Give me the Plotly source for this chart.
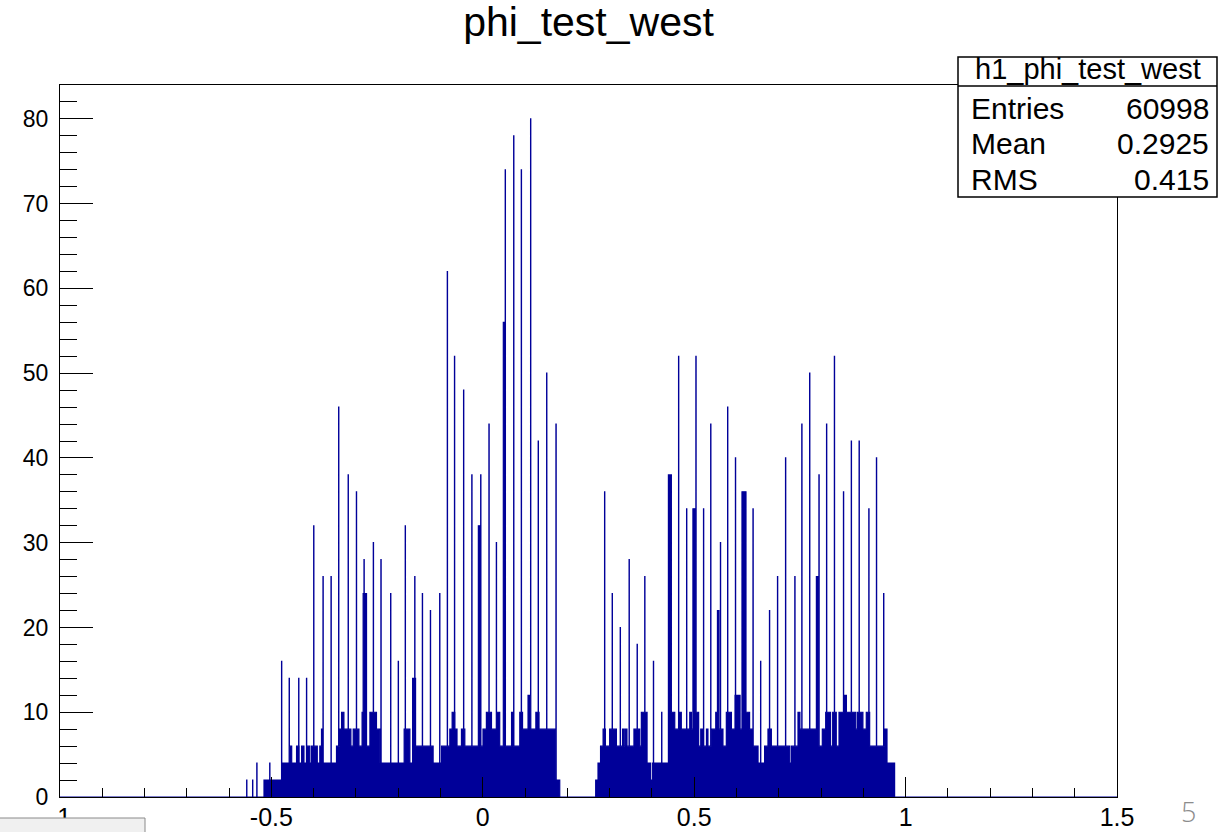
import numpy as np
import plotly.graph_objects as go

# ---------------- data ----------------
# Piecewise-constant "floor" of the histogram: edges (phi) and counts between them
base_edges = [
    -0.5177, -0.4759, -0.4579, -0.4522, -0.4404, -0.4343, -0.4286, -0.4232, -0.4168, -0.4090,
    -0.4050, -0.3917, -0.3853, -0.3813, -0.3775, -0.3459, -0.3381, -0.3341, -0.3286, -0.3121,
    -0.3066, -0.2931, -0.2853, -0.2830, -0.2749, -0.2671, -0.2513, -0.2435, -0.1861, -0.1726,
    -0.1662, -0.1591, -0.1175, -0.0976, -0.0780, -0.0726, -0.0662, -0.0608, -0.0504, -0.0426,
    -0.0106, -0.0059, 0.0007, 0.0087, 0.0206, 0.0324, 0.0402, 0.0485, 0.0532, 0.0678,
    0.0716, 0.0875, 0.0939, 0.1071, 0.1128, 0.1253, 0.1331, 0.1726, 0.1820, 0.2671,
    0.2726, 0.2783, 0.2844, 0.2901, 0.3002, 0.3161, 0.3303, 0.3333, 0.3364, 0.3411,
    0.3577, 0.3712, 0.3752, 0.3884, 0.3965, 0.4012, 0.4390, 0.4461, 0.4539, 0.4641,
    0.4697, 0.4894, 0.4934, 0.4972, 0.5035, 0.5106, 0.5154, 0.5208, 0.5288, 0.5326,
    0.5407, 0.5508, 0.5548, 0.5586, 0.5681, 0.5761, 0.5879, 0.5965, 0.6083, 0.6130,
    0.6225, 0.6312, 0.6390, 0.6508, 0.6667, 0.6745, 0.6825, 0.7258, 0.7298, 0.7454,
    0.7501, 0.7889, 0.7943, 0.8031, 0.8109, 0.8227, 0.8274, 0.8362, 0.8423, 0.8534,
    0.8598, 0.8818, 0.8858, 0.8991, 0.9071, 0.9149, 0.9504, 0.9558, 0.9740,
]
base_counts = [
    2, 4, 6, 4, 6, 4, 6, 4, 6, 4,
    6, 4, 6, 8, 4, 6, 8, 10, 8, 6,
    8, 6, 10, 24, 6, 10, 8, 4, 8, 4,
    14, 6, 4, 6, 8, 10, 8, 6, 8, 6,
    32, 6, 8, 10, 8, 10, 6, 56, 6, 10,
    6, 10, 8, 12, 8, 10, 8, 2, 0, 2,
    4, 6, 8, 6, 8, 6, 8, 6, 8, 6,
    8, 6, 10, 4, 2, 4, 38, 10, 8, 10,
    8, 10, 8, 34, 10, 6, 8, 6, 8, 6,
    8, 10, 22, 8, 6, 10, 8, 12, 8, 36,
    10, 8, 6, 4, 6, 8, 6, 4, 6, 10,
    8, 26, 6, 8, 10, 6, 10, 6, 10, 12,
    10, 8, 10, 8, 10, 6, 8, 4,
]

# Single-bin spikes: position (phi) and count
spike_phi = [
    -0.558, -0.544, -0.534, -0.504, -0.476, -0.458, -0.435, -0.417, -0.400, -0.378,
    -0.359, -0.341, -0.318, -0.299, -0.281, -0.259, -0.241, -0.218, -0.200, -0.183,
    -0.161, -0.143, -0.124, -0.102, -0.084, -0.067, -0.045, -0.026, -0.005, 0.015,
    0.032, 0.053, 0.073, 0.091, 0.113, 0.131, 0.151, 0.173,
    0.288, 0.306, 0.325, 0.346, 0.365, 0.383, 0.404, 0.423, 0.442, 0.463,
    0.482, 0.504, 0.522, 0.539, 0.562, 0.579, 0.598, 0.639, 0.657, 0.678,
    0.697, 0.716, 0.738, 0.755, 0.773, 0.795, 0.813, 0.832, 0.853, 0.872,
    0.890, 0.913, 0.931, 0.948,
]
spike_counts = [
    2, 2, 4, 4, 16, 14, 14, 14, 32, 26,
    26, 46, 38, 36, 28, 30, 28, 24, 16, 32,
    26, 24, 22, 24, 62, 52, 48, 38, 38, 44,
    30, 74, 78, 74, 80, 42, 50, 44,
    36, 24, 20, 28, 18, 26, 16, 10, 38, 52,
    34, 52, 34, 44, 30, 46, 40, 34, 16, 22,
    26, 40, 26, 44, 50, 38, 44, 52, 36, 42,
    42, 34, 40, 24,
]

x_tick_vals = [-1, -0.5, 0, 0.5, 1, 1.5]
x_tick_text = ["-1", "-0.5", "0", "0.5", "1", "1.5"]
y_tick_vals = [0, 10, 20, 30, 40, 50, 60, 70, 80]
y_tick_text = ["0", "10", "20", "30", "40", "50", "60", "70", "80"]

title_text = "phi_test_west"
stats_name = "h1_phi_test_west"
stats_rows = [("Entries", "60998"), ("Mean", "0.2925"), ("RMS", "0.415")]
x_range = [-1.0, 1.5]
y_range = [0, 84]

# ---------------- build fine histogram bins ----------------
bw = 0.0005
edges = np.arange(x_range[0], x_range[1] + bw / 2, bw)
centers = edges[:-1] + bw / 2
counts = np.zeros(len(centers))
be = np.array(base_edges)
bc = np.array(base_counts, dtype=float)
idx = np.searchsorted(be, centers, side="right") - 1
ok = (idx >= 0) & (idx < len(bc))
counts[ok] = bc[idx[ok]]
for sx, sc in zip(spike_phi, spike_counts):
    i = int(np.floor((sx - x_range[0]) / bw))
    counts[i] = max(counts[i], sc)

xs = np.append(edges[:-1], edges[-1])
ys = np.append(counts, counts[-1])

navy = "#000099"
fig = go.Figure()
fig.add_trace(go.Scatter(
    x=xs, y=ys, mode="lines", line=dict(shape="hv", color=navy, width=1.2),
    fill="tozeroy", fillcolor=navy, hoverinfo="skip", showlegend=False,
))

FONT = "Liberation Sans, Arial, Helvetica, sans-serif"

# plot frame in pixels: left 60, right 1117, top 85, bottom 797
L, R, T, B = 60, 1117, 85, 797
W, H = 1229, 832
pw, ph = R - L, B - T

def px2paper_x(px):
    return (px - L) / pw

def px2paper_y(py):
    return (B - py) / ph

fig.update_layout(
    width=W, height=H,
    margin=dict(l=L, r=W - R, t=T, b=H - B, pad=0, autoexpand=False),
    paper_bgcolor="white", plot_bgcolor="white",
    font=dict(family=FONT, color="black"),
    title=dict(text=title_text, x=0.5, xref="paper", xanchor="center",
               y=1 - 22 / H, yref="container", yanchor="middle",
               font=dict(family=FONT, size=41, color="black")),
    xaxis=dict(range=x_range, showgrid=False, zeroline=False, automargin=False,
               showline=True, mirror=True, linecolor="black", linewidth=1,
               ticks="inside", tickcolor="black", ticklen=20, tickwidth=1,
               tickmode="array", tickvals=x_tick_vals, ticktext=x_tick_text,
               minor=dict(dtick=0.1, tick0=-1, ticks="inside", ticklen=9,
                          tickcolor="black", tickwidth=1, showgrid=False),
               tickfont=dict(family=FONT, size=25, color="black"),
               ticklabelstandoff=-2),
    yaxis=dict(range=y_range, showgrid=False, zeroline=False, automargin=False,
               showline=True, mirror=True, linecolor="black", linewidth=1,
               ticks="inside", tickcolor="black", ticklen=33, tickwidth=1,
               tickmode="array", tickvals=y_tick_vals, ticktext=y_tick_text,
               minor=dict(dtick=2, tick0=0, ticks="inside", ticklen=17,
                          tickcolor="black", tickwidth=1, showgrid=False),
               tickfont=dict(family=FONT, size=23, color="black"),
               ticklabelstandoff=6),
)

# ---------------- stats box ----------------
bx0, bx1, by0, by1, bsep = 958, 1217, 57, 197, 86
shapes = [
    dict(type="rect", xref="paper", yref="paper",
         x0=px2paper_x(bx0), x1=px2paper_x(bx1), y0=px2paper_y(by1), y1=px2paper_y(by0),
         line=dict(color="black", width=1.5), fillcolor="white", layer="above"),
    dict(type="line", xref="paper", yref="paper",
         x0=px2paper_x(bx0), x1=px2paper_x(bx1), y0=px2paper_y(bsep), y1=px2paper_y(bsep),
         line=dict(color="black", width=1.5), layer="above"),
    # slide artefact: grey box at bottom-left
    dict(type="rect", xref="paper", yref="paper",
         x0=px2paper_x(-5), x1=px2paper_x(145), y0=px2paper_y(840), y1=px2paper_y(818),
         line=dict(color="#8a8a8a", width=1), fillcolor="#f0f0f0", layer="above"),
]
annotations = [
    dict(text=stats_name, xref="paper", yref="paper",
         x=px2paper_x((bx0 + bx1) / 2), y=px2paper_y(69), xanchor="center", yanchor="middle",
         showarrow=False, font=dict(family=FONT, size=29, color="black")),
]
row_y = [108, 143, 179]
for (lab, val), ry in zip(stats_rows, row_y):
    annotations.append(dict(text=lab, xref="paper", yref="paper",
                            x=px2paper_x(969), y=px2paper_y(ry), xanchor="left", yanchor="middle",
                            showarrow=False, font=dict(family=FONT, size=30, color="black")))
    annotations.append(dict(text=val, xref="paper", yref="paper",
                            x=px2paper_x(1211), y=px2paper_y(ry), xanchor="right", yanchor="middle",
                            showarrow=False, font=dict(family=FONT, size=30, color="black")))
# slide page number
annotations.append(dict(text="5", xref="paper", yref="paper",
                        x=px2paper_x(1188), y=px2paper_y(812), xanchor="center", yanchor="middle",
                        showarrow=False, font=dict(family="Open Sans, sans-serif", size=27,
                                                   color="#8c8c8c", weight=300)))
fig.update_layout(shapes=shapes, annotations=annotations)

fig.write_html(
    "out.html",
    config={"displayModeBar": False},
    post_script="document.body.style.margin='0px';document.body.style.overflow='hidden';",
)
